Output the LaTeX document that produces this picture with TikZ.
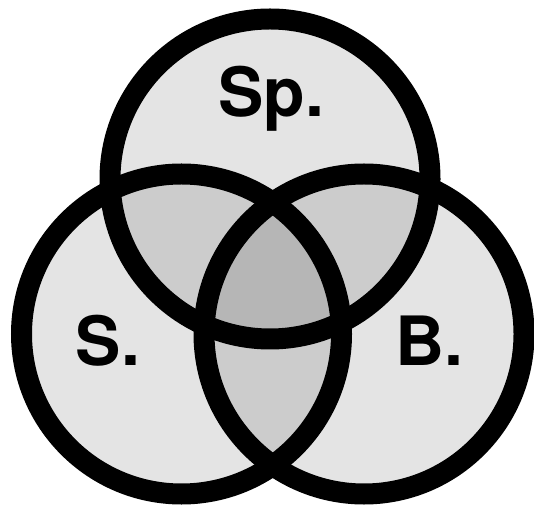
\documentclass[tikz,border=0pt]{standalone}
\usepackage{fontspec}
\setmainfont{TeX Gyre Heros}

\begin{document}
\begin{tikzpicture}[x=1pt, y=1pt,
  setfill/.style={fill=black, fill opacity=0.105},
  setline/.style={draw=black, line width=21pt},
  setlabel/.style={font=\bfseries\fontsize{68}{68}\selectfont, anchor=base, inner sep=0pt}
]
\useasboundingbox (0,0) rectangle (534,508);

%% --- circle centres ---
\coordinate (csp) at (270,329);
\coordinate (cs)  at (181.5,174);
\coordinate (cb)  at (364,174);

%% --- translucent fills (overlaps darken) ---
\fill[setfill] (csp) circle (160);
\fill[setfill] (cs)  circle (160);
\fill[setfill] (cb)  circle (160);

%% --- outlines ---
\draw[setline] (csp) circle (160);
\draw[setline] (cs)  circle (160);
\draw[setline] (cb)  circle (160);

%% --- set labels ---
\node[setlabel] (lsp) at (271,391) {Sp.};
\node[setlabel] (ls)  at (108,142) {S.};
\node[setlabel] (lb)  at (429,142) {B.};

\end{tikzpicture}
\end{document}
